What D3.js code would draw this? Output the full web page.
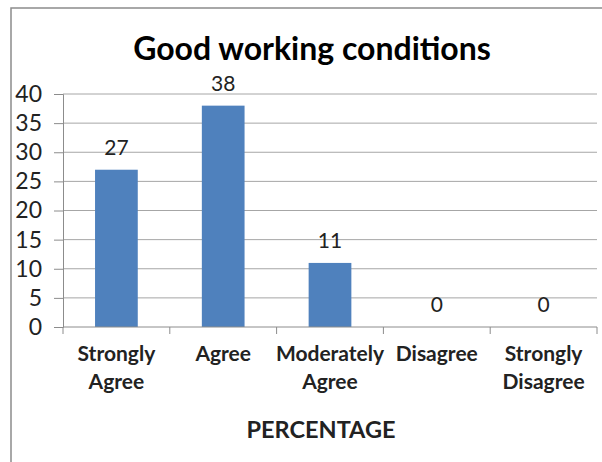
<!DOCTYPE html>
<html>
<head>
<meta charset="utf-8">
<script src="https://cdn.jsdelivr.net/npm/d3@7"></script>
<style>
  html, body { margin: 0; padding: 0; background: #fff; }
  svg { display: block; }
</style>
</head>
<body>
<svg id="chart" width="602" height="462"></svg>
<script>
// Survey responses: share of respondents per answer
const categories = [["Strongly", "Agree"], ["Agree"], ["Moderately", "Agree"], ["Disagree"], ["Strongly", "Disagree"]];
const values = [27, 38, 11, 0, 0];
const yTicks = [0, 5, 10, 15, 20, 25, 30, 35, 40];

const fontFamily = "Lato, 'Open Sans', sans-serif";
const svg = d3.select("#chart");

// Outer chart frame
svg.append("rect")
  .attr("x", 11).attr("y", 8)
  .attr("width", 600).attr("height", 470)
  .attr("fill", "#fff")
  .attr("stroke", "#8c8c8c")
  .attr("stroke-width", 1.5);

const plot = { left: 63, right: 597, top: 94, bottom: 327 };

const x = d3.scaleBand()
  .domain(d3.range(categories.length))
  .range([plot.left, plot.right])
  .paddingInner(0.6)
  .paddingOuter(0.3);

const y = d3.scaleLinear()
  .domain([0, 40])
  .range([plot.bottom, plot.top]);

// Horizontal gridlines
svg.append("g")
  .selectAll("line")
  .data(yTicks.filter(d => d > 0))
  .join("line")
  .attr("x1", plot.left).attr("x2", plot.right)
  .attr("y1", d => y(d)).attr("y2", d => y(d))
  .attr("stroke", "#a6a6a6")
  .attr("stroke-width", 1);

// Y axis
const yAxis = svg.append("g")
  .attr("transform", `translate(${plot.left},0)`)
  .call(d3.axisLeft(y).tickValues(yTicks).tickSize(9).tickPadding(12));
yAxis.select(".domain").attr("stroke", "#8c8c8c");
yAxis.selectAll(".tick line").attr("stroke", "#8c8c8c");
yAxis.selectAll(".tick text")
  .attr("font-family", fontFamily)
  .attr("font-size", 23)
  .attr("fill", "#222");

// Bars
svg.append("g")
  .selectAll("rect")
  .data(values)
  .join("rect")
  .attr("x", (d, i) => x(i))
  .attr("y", d => y(d))
  .attr("width", x.bandwidth())
  .attr("height", d => y(0) - y(d))
  .attr("fill", "#4f81bd");

// X axis baseline and category dividers
const xAxisG = svg.append("g");
xAxisG.append("line")
  .attr("x1", plot.left).attr("x2", plot.right)
  .attr("y1", plot.bottom).attr("y2", plot.bottom)
  .attr("stroke", "#8c8c8c");
xAxisG.selectAll("line.div")
  .data(d3.range(categories.length + 1))
  .join("line")
  .attr("class", "div")
  .attr("x1", i => plot.left + i * (plot.right - plot.left) / categories.length)
  .attr("x2", i => plot.left + i * (plot.right - plot.left) / categories.length)
  .attr("y1", plot.bottom).attr("y2", plot.bottom + 7)
  .attr("stroke", "#8c8c8c");

// Category labels (wrapped onto two lines)
const catText = svg.append("g")
  .selectAll("text")
  .data(categories)
  .join("text")
  .attr("x", (d, i) => x(i) + x.bandwidth() / 2)
  .attr("y", 361)
  .attr("text-anchor", "middle")
  .attr("font-family", fontFamily)
  .attr("font-weight", "bold")
  .attr("font-size", 21)
  .attr("fill", "#222");
catText.each(function(lines) {
  const t = d3.select(this);
  lines.forEach((ln, k) => {
    t.append("tspan")
      .attr("x", t.attr("x"))
      .attr("dy", k === 0 ? 0 : 28)
      .text(ln);
  });
});

// Value labels above bars
svg.append("g")
  .selectAll("text")
  .data(values)
  .join("text")
  .attr("x", (d, i) => x(i) + x.bandwidth() / 2)
  .attr("y", d => y(d) - 15)
  .attr("text-anchor", "middle")
  .attr("font-family", fontFamily)
  .attr("font-size", 21)
  .attr("fill", "#222")
  .text(d => d);

// Title
svg.append("text")
  .attr("x", 312).attr("y", 60)
  .attr("text-anchor", "middle")
  .attr("font-family", fontFamily)
  .attr("font-weight", "bold")
  .attr("font-size", 32)
  .attr("fill", "#000")
  .text("Good working conditions");

// Axis title
svg.append("text")
  .attr("x", 321).attr("y", 438)
  .attr("text-anchor", "middle")
  .attr("font-family", fontFamily)
  .attr("font-weight", "bold")
  .attr("font-size", 23.5)
  .attr("fill", "#222")
  .text("PERCENTAGE");
</script>
</body>
</html>
